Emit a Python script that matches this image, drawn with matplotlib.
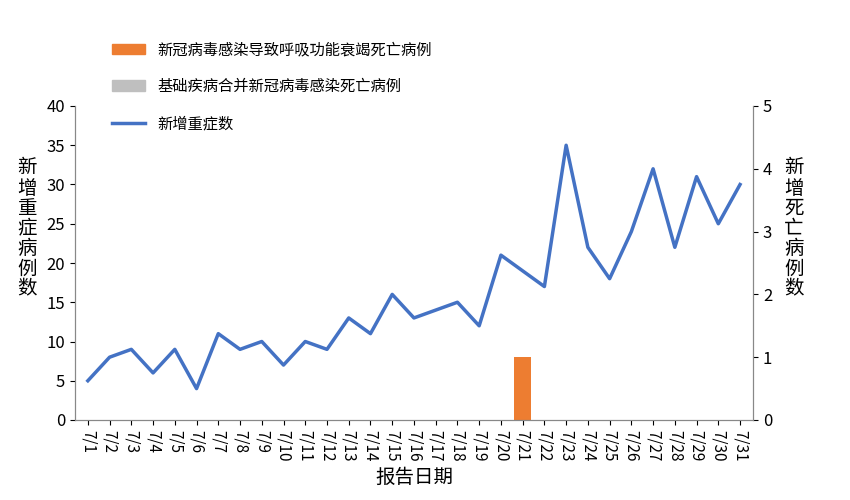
import numpy as np
import matplotlib.pyplot as plt
from matplotlib.patches import Patch
from matplotlib.lines import Line2D

plt.rcParams['font.family'] = ['Noto Sans CJK SC', 'DejaVu Sans']

dates = ["7/%d" % d for d in range(1, 32)]
severe = [5, 8, 9, 6, 9, 4, 11, 9, 10, 7, 10, 9, 13, 11, 16, 13, 14, 15, 12,
          21, 19, 17, 35, 22, 18, 24, 32, 22, 31, 25, 30]
deaths_covid = [0] * 31
deaths_covid[20] = 1
deaths_other = [0] * 31

x = np.arange(len(dates))
fig = plt.figure(figsize=(8.5, 5), dpi=100)
ax = fig.add_axes([0.088, 0.16, 0.798, 0.628])
ax2 = ax.twinx()

ax2.bar(x, deaths_covid, width=0.8, color="#ED7D31")
ax2.bar(x, deaths_other, width=0.8, bottom=deaths_covid, color="#BFBFBF")
ax.plot(x, severe, color="#4472C4", lw=2.5, zorder=3)
ax.set_zorder(ax2.get_zorder() + 1)
ax.patch.set_visible(False)

ax.set_xlim(-0.6, len(x) - 0.4)
ax.set_ylim(0, 40)
ax.set_yticks(range(0, 41, 5))
ax2.set_ylim(0, 5)
ax2.set_yticks(range(0, 6))
ax.set_xticks(x)
ax.set_xticklabels(dates, rotation=-90, fontsize=11)
ax.tick_params(axis="y", labelsize=12)
ax2.tick_params(axis="y", labelsize=12)
for a in (ax, ax2):
    a.spines["top"].set_visible(False)
    a.spines["left"].set_color("#888888")
    a.spines["right"].set_color("#888888")
    a.spines["bottom"].set_color("#888888")

ax.set_ylabel("\n".join("新增重症病例数"), rotation=0, fontsize=14,
              va="center", ha="center", linespacing=0.95)
ax.yaxis.set_label_coords(-0.07, 0.61)
ax2.set_ylabel("\n".join("新增死亡病例数"), rotation=0, fontsize=14,
               va="center", ha="center", linespacing=0.95)
ax2.yaxis.set_label_coords(1.06, 0.61)
ax.set_xlabel("报告日期", fontsize=14)

handles = [Patch(color="#ED7D31"), Patch(color="#BFBFBF"),
           Line2D([], [], color="#4472C4", lw=2.5)]
labels = ["新冠病毒感染导致呼吸功能衰竭死亡病例", "基础疾病合并新冠病毒感染死亡病例", "新增重症数"]
fig.legend(handles, labels, loc="upper left", bbox_to_anchor=(0.115, 0.945),
           frameon=False, fontsize=11, labelspacing=1.3, handlelength=2.2)

fig.savefig("out.png")
